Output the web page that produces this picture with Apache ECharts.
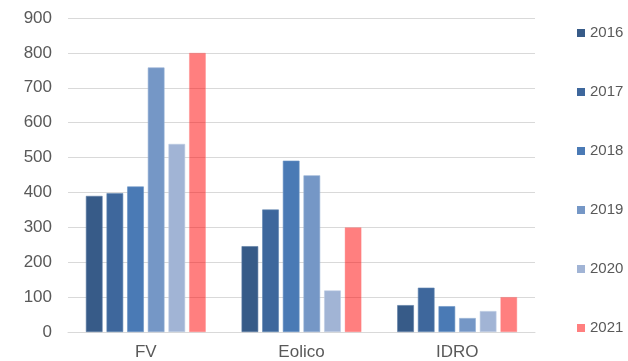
<!DOCTYPE html>
<html>
<head>
<meta charset="utf-8">
<script src="https://cdn.jsdelivr.net/npm/echarts@6/dist/echarts.min.js"></script>
<style>
html, body { margin: 0; padding: 0; background: #fff; }
#chart { width: 628px; height: 361px; }
</style>
</head>
<body>
<div id="chart"></div>
<script>
// Installed capacity by source and year
const categories = ['FV', 'Eolico', 'IDRO'];
const years = ['2016', '2017', '2018', '2019', '2020', '2021'];
const v2016 = [390, 246, 77];
const v2017 = [398, 351, 127];
const v2018 = [417, 491, 74];
const v2019 = [758, 449, 40];
const v2020 = [539, 119, 60];
const v2021 = [800, 300, 100];
const yTicks = [0, 100, 200, 300, 400, 500, 600, 700, 800, 900];

const values = [v2016, v2017, v2018, v2019, v2020, v2021];
const colors = ['#375B88', '#3E679C', '#4A7AB5', '#7597C6', '#A1B4D5', 'rgba(255,0,0,0.5)'];
const borders = ['#5a7aa3', '#6084b0', '#6a93c4', '#94afd3', '#bccbe2', 'rgba(255,120,120,0.6)'];

const chart = echarts.init(document.getElementById('chart'), null, { renderer: 'canvas' });

chart.setOption({
  animation: false,
  textStyle: { fontFamily: 'Liberation Sans, Arial, sans-serif' },
  grid: { left: 68, right: 93, top: 18, bottom: 29, containLabel: false },
  legend: {
    orient: 'vertical',
    left: 572,
    top: 20,
    itemWidth: 8,
    itemHeight: 8,
    itemGap: 43,
    icon: 'rect',
    data: years,
    itemStyle: { borderWidth: 0 },
    textStyle: { color: '#595959', fontSize: 15, lineHeight: 16 }
  },
  xAxis: {
    type: 'category',
    data: categories,
    axisLine: { lineStyle: { color: '#d9d9d9', width: 1 } },
    axisTick: { show: false },
    axisLabel: { color: '#595959', fontSize: 17, margin: 12 }
  },
  yAxis: {
    type: 'value',
    min: yTicks[0],
    max: yTicks[yTicks.length - 1],
    interval: 100,
    axisLine: { show: false },
    axisTick: { show: false },
    splitLine: { lineStyle: { color: '#d9d9d9', width: 1 } },
    axisLabel: { color: '#595959', fontSize: 17, margin: 16 }
  },
  series: years.map((y, i) => ({
    name: y,
    type: 'bar',
    data: values[i],
    barGap: '24%',
    barCategoryGap: '23%',
    itemStyle: { color: colors[i], borderColor: borders[i], borderWidth: 0.6 }
  }))
});
</script>
</body>
</html>
